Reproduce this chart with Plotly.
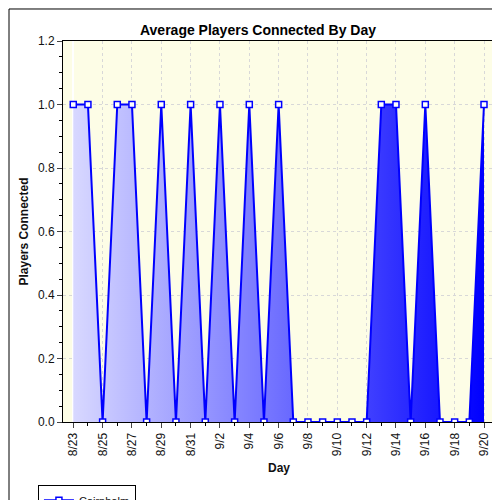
import plotly.graph_objects as go

days = ["8/23", "8/24", "8/25", "8/26", "8/27", "8/28", "8/29", "8/30", "8/31",
        "9/1", "9/2", "9/3", "9/4", "9/5", "9/6", "9/7", "9/8", "9/9", "9/10",
        "9/11", "9/12", "9/13", "9/14", "9/15", "9/16", "9/17", "9/18", "9/19", "9/20"]
players = [1, 1, 0, 1, 1, 0, 1, 0, 1, 0, 1, 0, 1, 0, 1, 0, 0, 0, 0, 0, 0,
           1, 1, 0, 1, 0, 0, 0, 1]
tick_days = days[::2]

idx = list(range(len(days)))

fig = go.Figure(go.Scatter(
    x=idx, y=players, name="Cairnholm", mode="lines+markers",
    line=dict(color="#0000ff", width=2),
    marker=dict(symbol="square", size=6, color="white",
                line=dict(color="#0000ff", width=1.5)),
    fill="tozeroy",
    fillgradient=dict(type="horizontal",
                      colorscale=[[0, "#d8d8ff"], [0.5, "#7070ff"], [1, "#0000ff"]]),
))

fig.update_layout(
    width=500, height=500,
    margin=dict(l=55, r=13, t=33, b=86, autoexpand=False),
    paper_bgcolor="white", plot_bgcolor="#fdfde6",
    font=dict(family="Liberation Sans, Arial", size=12, color="#111"),
    title=dict(text="<b>Average Players Connected By Day</b>", x=0.5, y=0.965,
               xanchor="center", font=dict(size=14, color="black")),
    showlegend=True,
    legend=dict(x=-0.058, y=-0.165, xanchor="left", yanchor="top",
                bordercolor="black", borderwidth=1, bgcolor="white",
                font=dict(size=11)),
    shapes=[dict(type="rect", xref="paper", yref="paper", x0=-0.125, x1=1.028,
                 y0=-0.223, y1=1.084, line=dict(color="black", width=1))],
)
fig.update_xaxes(
    range=[-0.7, 28.75], tickvals=idx[::2], ticktext=tick_days, tickangle=-90,
    ticks="outside", ticklen=5, showline=True, linecolor="black", mirror=True,
    automargin=False,
    showgrid=True, gridcolor="#d8d8d8", griddash="dot",
    minor=dict(tickvals=idx[1::2], ticks="outside", ticklen=3, tickcolor="black"),
    title=dict(text="<b>Day</b>", font=dict(size=12), standoff=8),
)
fig.update_yaxes(
    range=[0, 1.2], dtick=0.2, tickformat=".1f",
    ticks="outside", ticklen=5, showline=True, linecolor="black", mirror=True,
    automargin=False,
    showgrid=True, gridcolor="#d8d8d8", griddash="dot", zeroline=False,
    minor=dict(dtick=0.05, ticks="outside", ticklen=3, tickcolor="black"),
    title=dict(text="<b>Players Connected</b>", font=dict(size=12), standoff=6),
)

fig.write_html("out.html")
